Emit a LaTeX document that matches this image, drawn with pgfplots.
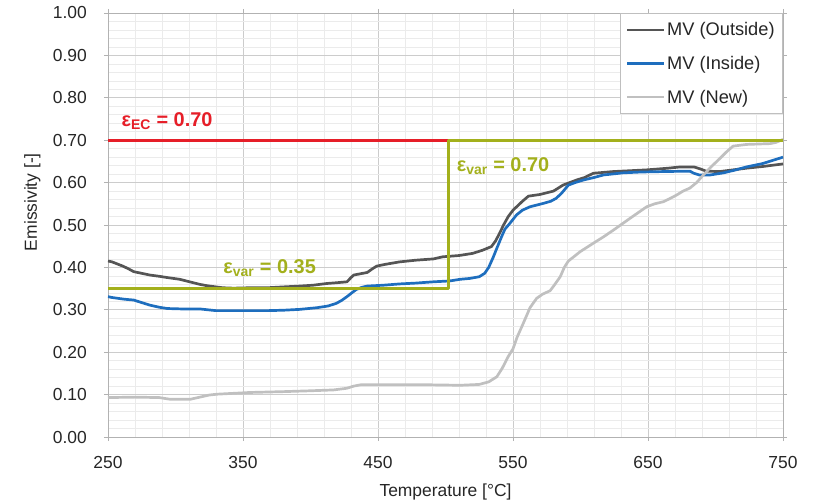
\documentclass[border=0pt]{standalone}
\usepackage{fontspec}
\setmainfont{Liberation Sans}
\usepackage{pgfplots}
\pgfplotsset{compat=1.18}
\definecolor{cOut}{RGB}{85,85,85}
\definecolor{cIn}{RGB}{30,110,190}
\definecolor{cNew}{RGB}{192,192,192}
\definecolor{cOlive}{RGB}{163,176,28}
\definecolor{cRed}{RGB}{230,30,40}
\newcommand{\fs}{\fontsize{17.5}{21}\selectfont}
\newcommand{\fl}{\fontsize{18.3}{22}\selectfont}
\newcommand{\fa}{\fontsize{20}{24}\selectfont\bfseries}
\begin{document}
\begin{tikzpicture}
\useasboundingbox (-108bp,-64bp) rectangle (705bp,437bp);
\begin{axis}[
  scale only axis, width=675bp, height=424bp,
  at={(0,0)}, anchor=south west,
  xmin=250, xmax=750, ymin=0, ymax=1,
  xtick={250,350,...,750}, ytick={0,0.1,...,1.0},
  minor x tick num=4, minor y tick num=4,
  grid=both,
  major grid style={draw=black!20, line width=0.8bp},
  minor grid style={draw=black!8, line width=0.6bp},
  axis line style={draw=black!30, line width=0.8bp},
  tick align=outside, major tick length=4bp, minor tick length=0pt,
  tick style={draw=black!30, line width=0.8bp},
  /pgf/number format/assume math mode=true,
  yticklabel style={/pgf/number format/fixed, /pgf/number format/fixed zerofill, /pgf/number format/precision=2},
  every tick label/.append style={font=\fs, text=black!85},
  yticklabel style={anchor=east, inner sep=0pt, xshift=-17bp},
  xticklabel style={anchor=north, inner sep=0pt, yshift=-15bp},
  xlabel={Temperature [°C]}, ylabel={Emissivity [-]},
  xlabel style={font=\fs, text=black!85, at={(axis description cs:0.5,-0.1392)}, anchor=base, inner sep=0pt},
  ylabel style={font=\fs, text=black!85, at={(axis description cs:-0.1052,0.554)}, anchor=base, inner sep=0pt},
  legend style={at={(rel axis cs:1,1)}, anchor=north east, draw=black!25, line width=0.8bp, fill=white,
    font=\fl, text=black!85, inner xsep=6bp, inner ysep=4bp, row sep=9bp, nodes={inner ysep=5bp, inner xsep=2bp}},
  legend cell align=left,
  legend image code/.code={\draw[#1, line width=2.3bp] (0bp,0bp) -- (37bp,0bp);},
  every axis plot/.append style={line width=2.7bp, line join=round},
]
\addplot[color=cOut] coordinates {
(250,0.415) (253,0.413) (261,0.403) (265,0.397) (269,0.390) (275,0.386) (281,0.382) (288,0.379) (294,0.376) (303,0.372) (308,0.368) (313,0.364) (318,0.360) (323,0.357) (330,0.354) (335,0.352) (343,0.351) (355,0.352) (368,0.352) (380,0.354) (392,0.356) (402,0.358) (412,0.362) (420,0.364) (427,0.366) (430,0.376) (432,0.382) (437,0.385) (442,0.388) (446,0.397) (449,0.403) (455,0.407) (466,0.413) (478,0.417) (491,0.420) (498,0.425) (510,0.428) (520,0.433) (527,0.440) (534,0.449) (537,0.462) (540,0.480) (543,0.500) (546.5,0.520) (550,0.535) (552.7,0.543) (557,0.556) (561.4,0.568) (570,0.572) (575,0.576) (580,0.580) (587,0.594) (597,0.606) (603,0.612) (609.5,0.622) (624,0.626) (649,0.630) (665,0.634) (674,0.637) (684,0.637) (689,0.632) (693,0.627) (703,0.626) (713,0.630) (723,0.634) (735,0.638) (750,0.644)
};
\addlegendentry{MV (Outside)}
\addplot[color=cIn] coordinates {
(250,0.331) (253,0.329) (262,0.325) (269,0.323) (275,0.317) (281,0.311) (288,0.306) (294,0.303) (305,0.302) (318,0.302) (330,0.298) (340,0.298) (355,0.298) (368,0.298) (380,0.299) (392,0.301) (405,0.305) (413,0.309) (419,0.315) (423,0.322) (427,0.331) (431,0.341) (434,0.348) (438,0.353) (442,0.356) (454,0.358) (466,0.361) (478,0.363) (491,0.366) (503,0.368) (511,0.372) (518,0.374) (525,0.378) (529,0.386) (532,0.400) (535.5,0.425) (538,0.445) (541.5,0.472) (544,0.490) (547.7,0.504) (552.7,0.524) (557,0.535) (562.6,0.543) (572.5,0.551) (578,0.556) (582,0.563) (586,0.575) (591,0.594) (596,0.600) (602,0.606) (610,0.612) (617,0.618) (631.6,0.623) (645,0.625) (661,0.626) (681,0.627) (684,0.622) (688,0.618) (696,0.618) (706,0.623) (715,0.630) (723,0.637) (735,0.645) (750,0.660)
};
\addlegendentry{MV (Inside)}
\addplot[color=cNew] coordinates {
(250,0.093) (270,0.094) (288,0.093) (296,0.089) (311,0.089) (318,0.094) (325,0.099) (331,0.101) (355,0.105) (380,0.107) (400,0.109) (417,0.111) (427,0.115) (432,0.120) (437,0.123) (466,0.123) (490,0.123) (511,0.122) (525,0.124) (532,0.130) (538,0.142) (542,0.162) (546.5,0.190) (550,0.208) (553,0.235) (557.6,0.268) (562.6,0.305) (567.5,0.327) (572,0.337) (577.5,0.345) (581,0.360) (585,0.378) (588,0.400) (591,0.415) (595,0.425) (599.7,0.437) (609.5,0.457) (617,0.472) (624.4,0.488) (636.8,0.516) (649,0.543) (655,0.550) (661.5,0.555) (666,0.562) (671.4,0.571) (676,0.580) (681,0.587) (686,0.600) (691,0.618) (697,0.638) (703.3,0.657) (708,0.672) (713,0.686) (723,0.690) (740.7,0.692) (745,0.695) (750,0.702)
};
\addlegendentry{MV (New)}
\addplot[color=cRed, forget plot] coordinates {(250,0.70) (502,0.70)};
\addplot[color=cOlive, forget plot] coordinates {(250,0.35) (502,0.35) (502,0.70) (750,0.70)};
\node[anchor=base west, inner sep=0pt, text=cRed, font=\fa] at (axis cs:260,0.733) {ε\textsubscript{EC} = 0.70};
\node[anchor=base west, inner sep=0pt, text=cOlive, font=\fa] at (axis cs:335.4,0.386) {ε\textsubscript{var} = 0.35};
\node[anchor=base west, inner sep=0pt, text=cOlive, font=\fa] at (axis cs:508.3,0.626) {ε\textsubscript{var} = 0.70};
\end{axis}
\end{tikzpicture}
\end{document}
